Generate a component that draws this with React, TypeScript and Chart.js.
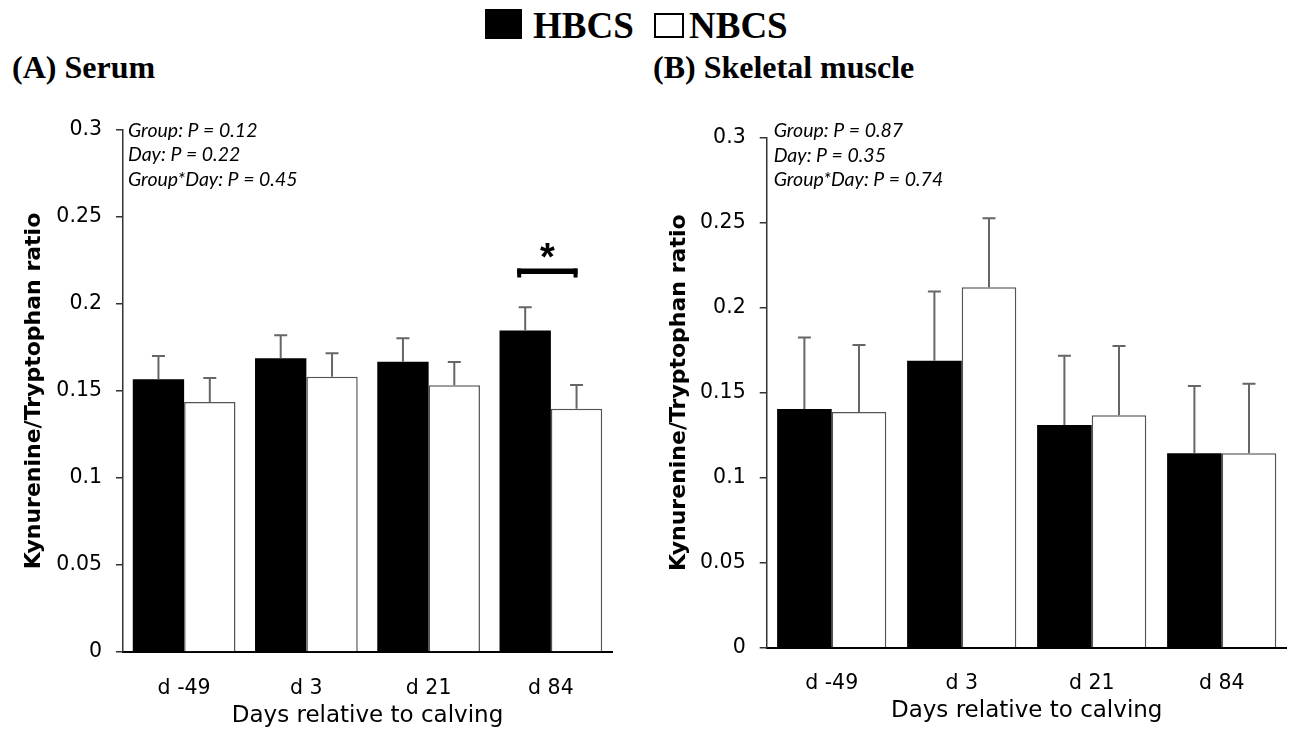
import React, { useEffect, useRef } from 'react';
import { Chart, registerables } from 'chart.js';

Chart.register(...registerables);

// ---------------- data ----------------
const categories = ['d -49', 'd 3', 'd 21', 'd 84'];
const seriesNames = ['HBCS', 'NBCS'];

const serumHBCS = [0.1567, 0.1688, 0.1668, 0.1847];
const serumNBCS = [0.1437, 0.1582, 0.1533, 0.1398];
const serumHBCSErr = [0.0134, 0.0132, 0.0135, 0.0134];
const serumNBCSErr = [0.0138, 0.0135, 0.0134, 0.0136];

const muscleHBCS = [0.1404, 0.1688, 0.131, 0.1144];
const muscleNBCS = [0.1386, 0.212, 0.1367, 0.1144];
const muscleHBCSErr = [0.042, 0.0408, 0.0408, 0.0396];
const muscleNBCSErr = [0.0394, 0.0406, 0.0408, 0.0409];

const yTickLabels = ['0', '0.05', '0.1', '0.15', '0.2', '0.25', '0.3'];
const serumStats = ['Group: P = 0.12', 'Day: P = 0.22', 'Group*Day: P = 0.45'];
const muscleStats = ['Group: P = 0.87', 'Day: P = 0.35', 'Group*Day: P = 0.74'];
const serumSignificant = [false, false, false, true];
const muscleSignificant = [false, false, false, false];

const yTitle = 'Kynurenine/Tryptophan ratio';
const xTitle = 'Days relative to calving';

// ---------------- styling ----------------
const CW = 645;
const CH = 640;
const TICK_FONT = { family: '"DejaVu Sans", sans-serif', size: 20.5 };

const overlayPlugin = {
  id: 'overlay',
  afterDatasetsDraw(chart: any, _args: any, opts: any) {
    const ctx = chart.ctx;
    const ys = chart.scales.y;
    const area = chart.chartArea;
    ctx.save();
    // error bars
    (opts.errors || []).forEach((errs: number[], di: number) => {
      const meta = chart.getDatasetMeta(di);
      meta.data.forEach((bar: any, i: number) => {
        const v = chart.data.datasets[di].data[i];
        const yTop = ys.getPixelForValue(v + errs[i]);
        const yBase = ys.getPixelForValue(v);
        ctx.strokeStyle = '#666666';
        ctx.lineWidth = 2;
        ctx.beginPath();
        ctx.moveTo(bar.x, yBase);
        ctx.lineTo(bar.x, yTop);
        ctx.moveTo(bar.x - 6.5, yTop);
        ctx.lineTo(bar.x + 6.5, yTop);
        ctx.stroke();
      });
    });
    // significance brackets
    (opts.significant || []).forEach((sig: boolean, i: number) => {
      if (!sig) return;
      const a = chart.getDatasetMeta(0).data[i];
      const b = chart.getDatasetMeta(1).data[i];
      const left = a.x - 8;
      const right = b.x + 1;
      const top = ys.getPixelForValue(opts.bracketLevel);
      ctx.fillStyle = '#000';
      ctx.fillRect(left, top, right - left, 5.5);
      ctx.fillRect(left, top, 4, 9);
      ctx.fillRect(right - 4, top, 4, 9);
      ctx.font = 'bold 38px "Liberation Sans", sans-serif';
      ctx.textAlign = 'center';
      ctx.textBaseline = 'alphabetic';
      ctx.fillText('*', (left + right) / 2, top + 1);
    });
    // stats annotation
    ctx.fillStyle = '#000';
    ctx.font = 'italic 19.5px Lato, sans-serif';
    ctx.textAlign = 'left';
    ctx.textBaseline = 'middle';
    (opts.stats || []).forEach((s: string, i: number) => {
      ctx.fillText(s, area.left + opts.statsDx, opts.statsY + i * 24.5);
    });
    ctx.restore();
  },
};

type PanelProps = {
  left: number;
  hbcs: number[];
  nbcs: number[];
  hbcsErr: number[];
  nbcsErr: number[];
  stats: string[];
  significant: boolean[];
  area: { left: number; top: number; right: number; bottom: number };
  statsY: number;
  statsDx: number;
  xTitlePad: number;
};

function Panel(p: PanelProps) {
  const ref = useRef<HTMLCanvasElement | null>(null);
  useEffect(() => {
    if (!ref.current) return;
    const chart = new Chart(ref.current, {
      type: 'bar',
      data: {
        labels: categories,
        datasets: [
          {
            label: seriesNames[0],
            data: p.hbcs,
            backgroundColor: '#000000',
            borderColor: '#000000',
            borderWidth: 0,
            categoryPercentage: 0.84,
            barPercentage: 1.0,
          },
          {
            label: seriesNames[1],
            data: p.nbcs,
            backgroundColor: '#ffffff',
            borderColor: '#555555',
            borderWidth: 1.5,
            categoryPercentage: 0.84,
            barPercentage: 1.0,
          },
        ],
      },
      options: {
        responsive: false,
        animation: false,
        events: [],
        layout: { padding: { left: 0, top: p.area.top, right: CW - p.area.right, bottom: 0 } },
        plugins: {
          legend: { display: false },
          tooltip: { enabled: false },
          overlay: {
            errors: [p.hbcsErr, p.nbcsErr],
            significant: p.significant,
            bracketLevel: 0.2204,
            stats: p.stats,
            statsY: p.statsY,
            statsDx: p.statsDx,
          },
        } as any,
        scales: {
          x: {
            type: 'category',
            offset: true,
            grid: { display: true, drawOnChartArea: false, drawTicks: false },
            border: { display: true, color: '#000000', width: 2 },
            ticks: { color: '#000', font: TICK_FONT, padding: 24, maxRotation: 0, autoSkip: false },
            title: {
              display: true,
              text: xTitle,
              color: '#000',
              font: { family: '"DejaVu Sans", sans-serif', size: 23 },
              padding: { top: 0, bottom: p.xTitlePad },
            },
            afterFit: (s: any) => {
              s.height = CH - p.area.bottom;
            },
          },
          y: {
            min: 0,
            max: 0.3,
            ticks: {
              stepSize: 0.05,
              color: '#000',
              font: TICK_FONT,
              padding: 14,
              callback: (v: any) => yTickLabels[Math.round(Number(v) / 0.05)],
            },
            grid: { display: true, drawOnChartArea: false, drawTicks: true, tickLength: 7, color: '#333333', lineWidth: 1.5 },
            border: { display: true, color: '#333333', width: 1.5 },
            title: {
              display: true,
              text: yTitle,
              color: '#000',
              font: { family: '"DejaVu Sans", sans-serif', size: 22, weight: 'bold' },
              padding: { top: 21, bottom: 0 },
            },
            afterFit: (s: any) => {
              s.width = p.area.left;
            },
          },
        } as any,
      },
      plugins: [overlayPlugin as any],
    });
    return () => chart.destroy();
  }, []);
  return (
    <canvas
      ref={ref}
      width={CW}
      height={CH}
      style={{ position: 'absolute', left: p.left, top: 100, width: CW, height: CH, display: 'block' }}
    />
  );
}

const serif: React.CSSProperties = {
  position: 'absolute',
  fontFamily: '"Liberation Serif", "Times New Roman", serif',
  fontWeight: 'bold',
  lineHeight: 1,
  whiteSpace: 'nowrap',
  color: '#000',
};

export default function App() {
  return (
    <div style={{ position: 'absolute', left: 0, top: 0, width: 1290, height: 740, background: '#fff', overflow: 'hidden' }}>
      {/* legend */}
      <div style={{ position: 'absolute', left: 485, top: 9, width: 37, height: 30, background: '#000' }} />
      <div style={{ ...serif, left: 533, top: 7, fontSize: 37 }}>{seriesNames[0]}</div>
      <div style={{ position: 'absolute', left: 654, top: 12.5, width: 30, height: 25, border: '2px solid #000', boxSizing: 'border-box', background: '#fff' }} />
      <div style={{ ...serif, left: 689, top: 7, fontSize: 37 }}>{seriesNames[1]}</div>
      {/* panel titles */}
      <div style={{ ...serif, left: 12, top: 51, fontSize: 32 }}>(A) Serum</div>
      <div style={{ ...serif, left: 653, top: 51, fontSize: 32 }}>(B) Skeletal muscle</div>
      <Panel
        left={0}
        hbcs={serumHBCS}
        nbcs={serumNBCS}
        hbcsErr={serumHBCSErr}
        nbcsErr={serumNBCSErr}
        stats={serumStats}
        significant={serumSignificant}
        area={{ left: 123, top: 30, right: 612, bottom: 552 }}
        statsY={30.5}
        statsDx={5}
        xTitlePad={10}
      />
      <Panel
        left={645}
        hbcs={muscleHBCS}
        nbcs={muscleNBCS}
        hbcsErr={muscleHBCSErr}
        nbcsErr={muscleNBCSErr}
        stats={muscleStats}
        significant={muscleSignificant}
        area={{ left: 121.7, top: 37.7, right: 641.7, bottom: 547.7 }}
        statsY={31}
        statsDx={7}
        xTitlePad={15}
      />
    </div>
  );
}
